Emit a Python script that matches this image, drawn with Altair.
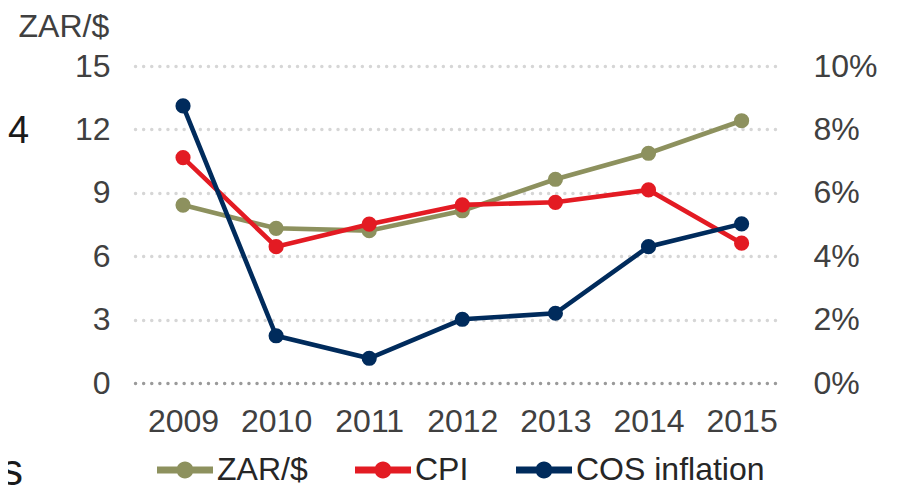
import altair as alt
import pandas as pd

years = [2009, 2010, 2011, 2012, 2013, 2014, 2015]
zar = [8.42, 7.32, 7.21, 8.15, 9.64, 10.87, 12.41]
cpi = [7.11, 4.30, 5.01, 5.62, 5.70, 6.09, 4.41]
cos_infl = [8.74, 1.49, 0.78, 2.01, 2.20, 4.30, 5.02]
series_names = ["ZAR/$", "CPI", "COS inflation"]
series_colors = ["#8D915E", "#E31B23", "#002B5C"]
left_ticks = [0, 3, 6, 9, 12, 15]
right_ticks = [0, 2, 4, 6, 8, 10]

FONT = "Liberation Sans"
FS = 32
TICK_COLOR = "#404040"
TEXT_COLOR = "#262626"

def frame(name, vals):
    return pd.DataFrame({"year": years, "value": vals, "series": name})

df_zar = frame(series_names[0], zar)
df_cpi = frame(series_names[1], cpi)
df_cos = frame(series_names[2], cos_infl)

x_enc = alt.X(
    "year:Q",
    scale=alt.Scale(domain=[2008.484, 2015.434], nice=False, zero=False),
    axis=alt.Axis(values=years, format="d", labelPadding=23, grid=False, title=None,
                  labelFlush=False),
)

legend_path = ("M-1,-0.125H1V0.125H-1Z "
               "M0.304,0A0.304,0.304,0,1,1,-0.304,0A0.304,0.304,0,1,1,0.304,0Z")
legend = alt.Legend(
    title=None, orient="none", legendX=22, legendY=376, direction="horizontal",
    symbolType=legend_path, symbolSize=3136, symbolStrokeWidth=0, symbolOpacity=1,
    labelFont=FONT, labelFontSize=FS, labelColor=TEXT_COLOR, labelOffset=4,
    columnPadding=47, labelLimit=400,
)
color_enc = alt.Color("series:N", scale=alt.Scale(domain=series_names, range=series_colors),
                      legend=legend)

left_axis = alt.Axis(
    values=left_ticks, grid=True, gridDash=[0.1, 8], gridCap="round", gridWidth=3.4,
    gridColor={"condition": {"test": "datum.value === 0", "value": "#9a9a9a"}, "value": "#d6d6d6"},
    labelPadding=25, title="ZAR/$", titleAngle=0, titleX=-117, titleY=-30,
    titleAlign="left", titleBaseline="alphabetic", titleFont=FONT, titleFontSize=FS,
    titleFontWeight="normal", titleColor=TICK_COLOR,
)
right_axis = alt.Axis(
    values=right_ticks, orient="right", grid=False, labelPadding=31,
    labelExpr="datum.value + '%'", title=None,
)

y_left = alt.Y("value:Q", scale=alt.Scale(domain=[0, 15], nice=False), axis=left_axis)
y_left_noax = alt.Y("value:Q", scale=alt.Scale(domain=[0, 15], nice=False), axis=None)
y_right = alt.Y("value:Q", scale=alt.Scale(domain=[0, 10], nice=False), axis=right_axis)
y_right_noax = alt.Y("value:Q", scale=alt.Scale(domain=[0, 10], nice=False), axis=None)

LW = 4.6
PS = 230

zar_line = alt.Chart(df_zar).mark_line(color=series_colors[0], strokeWidth=LW).encode(x=x_enc, y=y_left)
zar_pt = alt.Chart(df_zar).mark_point(filled=True, size=PS, opacity=1).encode(x=x_enc, y=y_left_noax, color=color_enc)
cpi_line = alt.Chart(df_cpi).mark_line(color=series_colors[1], strokeWidth=LW).encode(x=x_enc, y=y_right)
cpi_pt = alt.Chart(df_cpi).mark_point(filled=True, size=PS, opacity=1).encode(x=x_enc, y=y_right_noax, color=color_enc)
cos_line = alt.Chart(df_cos).mark_line(color=series_colors[2], strokeWidth=LW).encode(x=x_enc, y=y_right_noax)
cos_pt = alt.Chart(df_cos).mark_point(filled=True, size=PS, opacity=1).encode(x=x_enc, y=y_right_noax, color=color_enc)

frag_4 = alt.Chart(pd.DataFrame({"t": ["4"]})).mark_text(
    align="left", baseline="alphabetic", font=FONT, fontSize=38, color="#1a1a1a"
).encode(x=alt.value(-127), y=alt.value(77), text="t:N")
frag_ds = alt.Chart(pd.DataFrame({"t": ["ds"]})).mark_text(
    align="right", baseline="alphabetic", font=FONT, fontSize=44, color="#1a1a1a"
).encode(x=alt.value(-112), y=alt.value(419), text="t:N")

chart = alt.layer(
    zar_line, zar_pt, cpi_line, cpi_pt, cos_line, cos_pt, frag_4, frag_ds
).resolve_scale(y="independent").properties(
    width=647, height=317,
    padding={"left": 127, "top": 58, "right": 108, "bottom": 104},
    autosize=alt.AutoSizeParams(type="none"),
).configure_axis(
    labelFont=FONT, labelFontSize=FS, labelColor=TICK_COLOR, domain=False, ticks=False,
).configure_view(stroke=None)

chart.save("out.html", embed_options={"renderer": "svg", "actions": False})
